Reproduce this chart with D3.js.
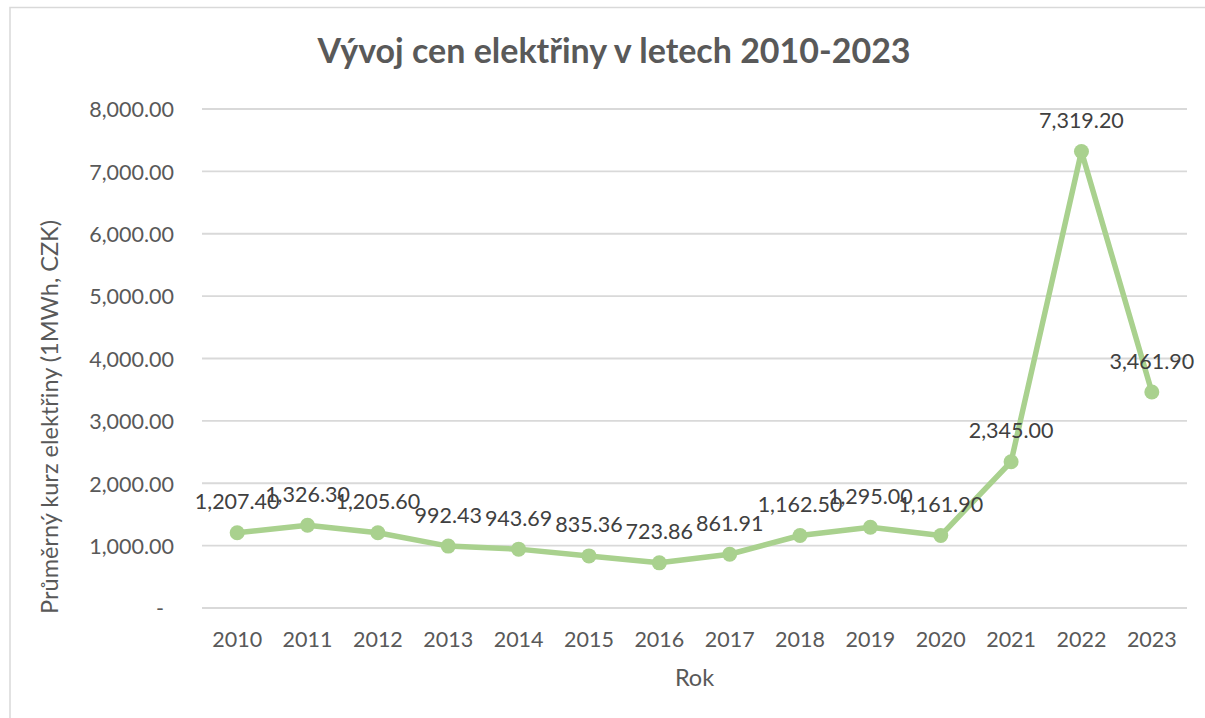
<!DOCTYPE html>
<html>
<head>
<meta charset="utf-8">
<script src="https://cdn.jsdelivr.net/npm/d3@7"></script>
<style>
  html, body { margin: 0; padding: 0; background: #fff; }
  svg { display: block; }
</style>
</head>
<body>
<svg id="chart" width="1205" height="718"></svg>
<script>
const years = ["2010","2011","2012","2013","2014","2015","2016","2017","2018","2019","2020","2021","2022","2023"];
const prices = [1207.40, 1326.30, 1205.60, 992.43, 943.69, 835.36, 723.86, 861.91, 1162.50, 1295.00, 1161.90, 2345.00, 7319.20, 3461.90];
const yTicks = [0, 1000, 2000, 3000, 4000, 5000, 6000, 7000, 8000];
const titleText = "Vývoj cen elektřiny v letech 2010-2023";
const xTitleText = "Rok";
const yTitleText = "Průměrný kurz elektřiny (1MWh, CZK)";

const svg = d3.select("#chart");
const FONT = "Lato, 'Open Sans', sans-serif";

// chart area border
svg.append("rect")
  .attr("x", 10).attr("y", 7.5)
  .attr("width", 1400).attr("height", 900)
  .attr("fill", "#fff")
  .attr("stroke", "#d9d9d9").attr("stroke-width", 1.5);

const plot = { left: 202, right: 1187, top: 109, bottom: 608 };

const x = d3.scaleBand().domain(years).range([plot.left, plot.right]);
const y = d3.scaleLinear().domain([0, 8000]).range([plot.bottom, plot.top]);

const fmt = d3.format(",.2f");

// gridlines
svg.append("g").selectAll("line").data(yTicks).join("line")
  .attr("x1", plot.left).attr("x2", plot.right)
  .attr("y1", d => y(d)).attr("y2", d => y(d))
  .attr("stroke", "#d9d9d9").attr("stroke-width", 1.8);

// y axis labels
const yAxis = d3.axisLeft(y).tickValues(yTicks).tickSize(0).tickPadding(0)
  .tickFormat(d => d === 0 ? "-" : fmt(d));
const gy = svg.append("g").attr("transform", `translate(${174},0)`).call(yAxis);
gy.select(".domain").remove();
gy.selectAll("text")
  .attr("font-family", FONT).attr("font-size", 21.5).attr("fill", "#595959")
  .attr("dy", "0.36em")
  .attr("x", d => d === 0 ? -10 : 0);

// x axis labels
const xAxis = d3.axisBottom(x).tickSize(0).tickPadding(0);
const gx = svg.append("g").attr("transform", `translate(0,${647})`).call(xAxis);
gx.select(".domain").remove();
gx.selectAll("text")
  .attr("font-family", FONT).attr("font-size", 21.5).attr("fill", "#595959")
  .attr("dy", 0).attr("y", 0);

// line
const cx = d => x(d) + x.bandwidth() / 2;
const line = d3.line().x((d, i) => cx(years[i])).y(d => y(d));
svg.append("path").datum(prices)
  .attr("d", line)
  .attr("fill", "none")
  .attr("stroke", "#A9D18E").attr("stroke-width", 5.5)
  .attr("stroke-linejoin", "round").attr("stroke-linecap", "round");

svg.append("g").selectAll("circle").data(prices).join("circle")
  .attr("cx", (d, i) => cx(years[i]))
  .attr("cy", d => y(d))
  .attr("r", 7.5)
  .attr("fill", "#A9D18E");

// data labels
svg.append("g").selectAll("text").data(prices).join("text")
  .attr("x", (d, i) => cx(years[i]))
  .attr("y", d => y(d) - 23.5)
  .attr("text-anchor", "middle")
  .attr("font-family", FONT).attr("font-size", 21.5).attr("fill", "#404040")
  .text(d => fmt(d));

// title
svg.append("text")
  .attr("x", 614).attr("y", 63)
  .attr("text-anchor", "middle")
  .attr("font-family", FONT).attr("font-weight", "bold")
  .attr("font-size", 34).attr("fill", "#595959")
  .text(titleText);

// x axis title
svg.append("text")
  .attr("x", (plot.left + plot.right) / 2).attr("y", 686)
  .attr("text-anchor", "middle")
  .attr("font-family", FONT).attr("font-size", 23.5).attr("fill", "#595959")
  .text(xTitleText);

// y axis title
svg.append("text")
  .attr("transform", `translate(${58},${417}) rotate(-90)`)
  .attr("text-anchor", "middle")
  .attr("font-family", FONT).attr("font-size", 23.5).attr("fill", "#595959")
  .text(yTitleText);
</script>
</body>
</html>
